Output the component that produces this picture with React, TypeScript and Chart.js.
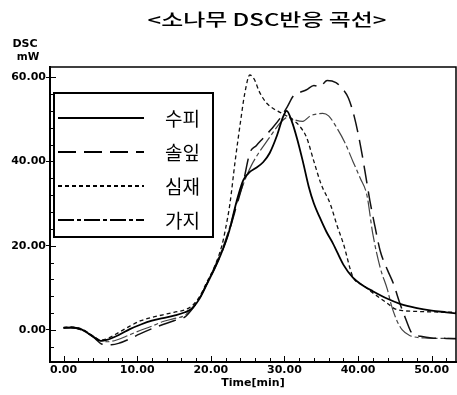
import React, { useEffect, useRef } from 'react';
import { Chart, registerables } from 'chart.js';

Chart.register(...registerables);

// ---- Texts ----
const chartTitle = '<소나무 DSC반응 곡선>';
const yUnitLines = ['DSC', 'mW'];
const xAxisTitle = 'Time[min]';
const seriesLabels = ['수피', '솔잎', '심재', '가지'];

// ---- Axis ranges / ticks ----
const xMin = -1.84;
const xMax = 53.3;
const yMin = -7.6;
const yMax = 62.4;
const xMajorStep = 10;
const yMajorStep = 20;
const xMinorStep = 2;
const yMinorStep = 4;

// ---- Series: 수피 (solid) ----
const supiX = [0, 1, 2.5, 4, 5, 6, 7.5, 9, 10.5, 12, 13.5, 15, 16.5, 17.5, 18.5, 19.5, 20.5, 21.5, 22.5, 23.5, 24.4, 25.3, 26, 27.1, 28, 29, 29.8, 30.3, 31, 31.7, 32.5, 33.3, 34, 34.8, 35.7, 36.6, 38, 39.3, 40.7, 42, 44, 45.7, 48, 50, 52, 53.5];
const supiY = [0.5, 0.6, 0.1, -1.6, -2.6, -2.3, -1.2, 0.2, 1.3, 2.2, 2.8, 3.4, 4.2, 5.2, 7.5, 11, 14.5, 18.5, 23.5, 30.5, 35.5, 37.5, 38.3, 39.8, 42, 46.2, 50.5, 52, 49.5, 45.5, 40, 34, 30, 26.7, 23.3, 20.5, 15.5, 12.4, 10.5, 9.2, 7.4, 6.2, 5.2, 4.6, 4.2, 3.9];

// ---- Series: 솔잎 (long dash) ----
const solipX = [0, 1, 2.5, 4, 5.3, 6.5, 7.6, 9, 10.3, 12, 13.5, 15, 16.5, 17.5, 18.5, 19.5, 20.5, 21.5, 22.5, 23.5, 24.4, 25.3, 26.2, 27.1, 28.3, 29.4, 30.4, 31.2, 32, 33, 34, 34.8, 35.8, 37, 38, 38.7, 39.5, 40.3, 41, 41.6, 42.3, 43, 44, 44.8, 45.7, 46.5, 47.3, 48.5, 50, 52, 53.5];
const solipY = [0.5, 0.5, 0, -1.6, -3.4, -3.5, -3.1, -2.1, -1, 0.3, 1.3, 2.2, 3.1, 5, 7.6, 11, 14.6, 18.5, 23.5, 29.5, 35, 42, 43.8, 45.5, 47.8, 50.2, 53, 55.5, 56.3, 57, 58, 57.7, 59.2, 58.7, 57, 55, 50.5, 44, 37, 30.7, 24.5, 18.8, 14.2, 11, 6.2, 2.5, -0.7, -1.5, -1.9, -2, -2.1];

// ---- Series: 심재 (short dash) ----
const simjaeX = [0, 1, 2.5, 4, 5, 6, 7.5, 9, 10.5, 12, 13.5, 15, 16.5, 17.5, 18.5, 19.5, 20.5, 21.5, 22, 22.6, 23.3, 24, 24.6, 25.3, 25.9, 26.6, 27.6, 28.7, 29.8, 31, 32, 33, 34, 35, 36.2, 37.2, 38, 39.3, 40.7, 42, 44, 45, 46, 48, 50, 53.5];
const simjaeY = [0.6, 0.7, 0.2, -1.4, -2.4, -2.0, -0.6, 0.9, 2.2, 3.0, 3.6, 4.2, 4.8, 5.8, 8, 11.5, 15, 20, 24, 30, 40, 49, 56, 60.5, 59.5, 56.5, 53.8, 52.3, 51.3, 50, 48.5, 45.7, 40, 34.5, 30, 24.5, 20.5, 12.6, 10.6, 8.8, 6.3, 5.0, 4.6, 4.4, 4.3, 4.2];

// ---- Series: 가지 (dash) ----
const gajiX = [0, 1, 2.5, 4, 5, 6, 7.5, 8.5, 10.3, 12, 13.5, 15, 16.5, 17.5, 18.5, 19.5, 20.5, 21.5, 22.5, 23.5, 24.5, 25.5, 26.5, 27.5, 28.5, 29.5, 30.5, 31.5, 32.5, 33.5, 34.3, 35.2, 36, 37.1, 38.2, 39.3, 40.3, 41.2, 42, 43, 44, 44.5, 45.2, 46, 47, 49, 51, 53.5];
const gajiY = [0.4, 0.5, 0, -1.5, -2.5, -2.8, -2.2, -1.5, -0.2, 0.9, 2.0, 2.7, 3.5, 5.3, 7.8, 11.2, 15, 19, 24, 30, 35, 39, 42, 44.5, 47, 49.3, 50.5, 49.8, 49.5, 50.8, 51.2, 51.4, 50.8, 48, 44.5, 40, 36, 32, 22.8, 14.8, 9.5, 6, 2.5, 0, -1.3, -1.9, -2, -2];

const seriesX = [supiX, solipX, simjaeX, gajiX];
const seriesY = [supiY, solipY, simjaeY, gajiY];

const dashes: number[][] = [[], [18, 8], [4, 3], [16, 3, 4, 3]];
const widths = [1.8, 1.5, 1.3, 1.2];
const colors = ['#000', '#111', '#111', '#444'];

const headerPlugin = {
  id: 'header',
  afterDraw(chart: any) {
    const ctx = chart.ctx as CanvasRenderingContext2D;
    ctx.save();
    ctx.fillStyle = '#000';
    ctx.font = '500 17px "Noto Sans CJK KR", sans-serif';
    ctx.textAlign = 'center';
    ctx.textBaseline = 'middle';
    const w = ctx.measureText(chartTitle).width;
    ctx.translate(267, 20);
    ctx.scale(239 / w, 1);
    ctx.fillText(chartTitle, 0, 0);
    ctx.setTransform(1, 0, 0, 1, 0, 0);
    ctx.font = 'bold 11px "DejaVu Sans", sans-serif';
    ctx.fillText(yUnitLines[0], 25, 44);
    ctx.font = 'bold 10.5px "DejaVu Sans", sans-serif';
    ctx.fillText(yUnitLines[1], 28, 57);
    ctx.restore();
  },
};

const framePlugin = {
  id: 'frame',
  afterDraw(chart: any) {
    const ctx = chart.ctx as CanvasRenderingContext2D;
    const a = chart.chartArea;
    const xs = chart.scales.x;
    const ys = chart.scales.y;
    ctx.save();
    ctx.strokeStyle = '#000';
    ctx.lineWidth = 1.5;
    ctx.beginPath();
    ctx.moveTo(a.left, a.top);
    ctx.lineTo(a.right, a.top);
    ctx.lineTo(a.right, a.bottom);
    ctx.stroke();
    ctx.lineWidth = 1;
    ctx.beginPath();
    for (let v = 0; v <= xMax; v += xMinorStep) {
      const p = Math.round(xs.getPixelForValue(v)) + 0.5;
      const len = v % xMajorStep === 0 ? 6 : 4;
      ctx.moveTo(p, a.bottom);
      ctx.lineTo(p, a.bottom - len);
    }
    for (let v = -4; v <= yMax; v += yMinorStep) {
      const p = Math.round(ys.getPixelForValue(v)) + 0.5;
      const len = v % yMajorStep === 0 ? 6 : 4;
      ctx.moveTo(a.left, p);
      ctx.lineTo(a.left + len, p);
    }
    ctx.stroke();
    ctx.restore();
  },
};

const legendPlugin = {
  id: 'boxLegend',
  afterDraw(chart: any) {
    const ctx = chart.ctx as CanvasRenderingContext2D;
    const left = 54, top = 93, right = 213, bottom = 237;
    ctx.save();
    ctx.fillStyle = '#fff';
    ctx.fillRect(left, top, right - left, bottom - top);
    ctx.strokeStyle = '#000';
    ctx.lineWidth = 2;
    ctx.strokeRect(left, top, right - left, bottom - top);
    chart.data.datasets.forEach((ds: any, i: number) => {
      const y = 118 + i * 34;
      ctx.beginPath();
      ctx.setLineDash(ds.borderDash || []);
      ctx.lineWidth = 2;
      ctx.strokeStyle = '#000';
      ctx.moveTo(58, y);
      ctx.lineTo(144, y);
      ctx.stroke();
      ctx.setLineDash([]);
      ctx.fillStyle = '#000';
      ctx.font = '19px "Noto Sans CJK KR", sans-serif';
      ctx.textAlign = 'left';
      ctx.textBaseline = 'middle';
      ctx.fillText(ds.label, 165, y + 1);
    });
    ctx.restore();
  },
};

export default function App() {
  const ref = useRef<HTMLCanvasElement | null>(null);
  useEffect(() => {
    if (!ref.current) return;
    const datasets = seriesLabels.map((label, i) => ({
      label,
      data: seriesX[i].map((x, j) => ({ x, y: seriesY[i][j] })),
      borderColor: colors[i],
      borderWidth: widths[i],
      borderDash: dashes[i],
      pointRadius: 0,
      fill: false,
      cubicInterpolationMode: 'monotone' as const,
    }));
    const chart = new Chart(ref.current, {
      type: 'line',
      data: { datasets },
      options: {
        animation: false,
        responsive: false,
        events: [],
        layout: { padding: { top: 67, right: 1, left: 0, bottom: 0 } },
        plugins: { legend: { display: false }, tooltip: { enabled: false }, title: { display: false } },
        scales: {
          x: {
            type: 'linear',
            min: xMin,
            max: xMax,
            afterFit: (s: any) => { s.height = 33; },
            grid: { display: false, drawTicks: false },
            border: { display: true, color: '#000', width: 2 },
            ticks: {
              stepSize: xMajorStep,
              includeBounds: false,
              padding: 2,
              color: '#000',
              font: { family: '"DejaVu Sans", sans-serif', size: 11, weight: 'bold' },
              callback: (v: any) => Number(v).toFixed(2),
              maxRotation: 0,
              autoSkip: false,
            },
            title: {
              display: true,
              text: xAxisTitle,
              color: '#000',
              font: { family: '"DejaVu Sans", sans-serif', size: 11, weight: 'bold' },
              padding: { top: 0, bottom: 5 },
            },
          },
          y: {
            type: 'linear',
            min: yMin,
            max: yMax,
            afterFit: (s: any) => { s.width = 50; },
            grid: { drawOnChartArea: false, drawTicks: true, tickLength: 4, color: '#000', tickColor: '#000' },
            border: { display: true, color: '#000', width: 2 },
            ticks: {
              stepSize: yMajorStep,
              includeBounds: false,
              padding: 0,
              color: '#000',
              font: { family: '"DejaVu Sans", sans-serif', size: 11, weight: 'bold' },
              callback: (v: any) => Number(v).toFixed(2),
            },
          },
        },
      },
      plugins: [headerPlugin, framePlugin, legendPlugin],
    });
    return () => chart.destroy();
  }, []);
  return (
    <div style={{ position: 'fixed', left: 0, top: 0, width: 457, height: 395, background: '#fff' }}>
      <canvas ref={ref} width={457} height={395} />
    </div>
  );
}
